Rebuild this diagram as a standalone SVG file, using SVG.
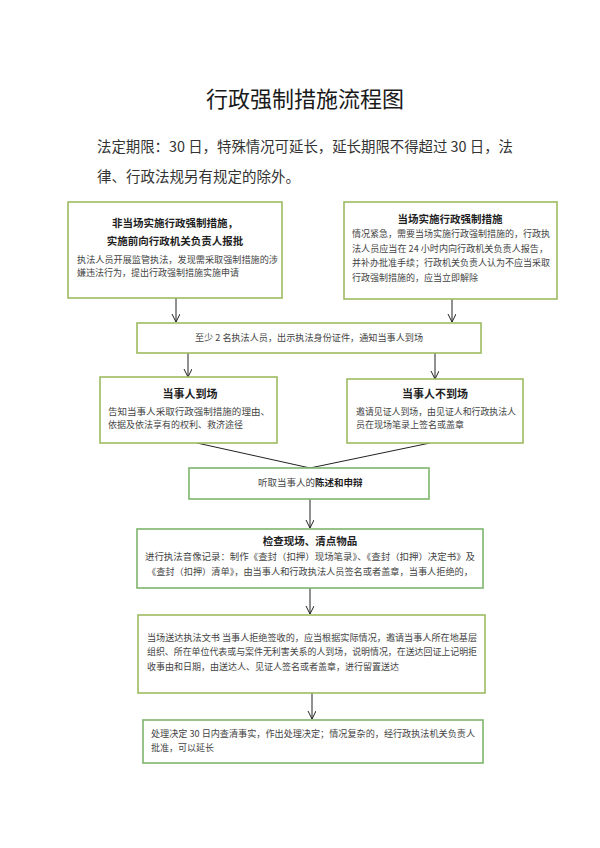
<svg xmlns="http://www.w3.org/2000/svg" width="600" height="848" viewBox="0 0 600 848">
<style>
text{font-family:"Noto Sans CJK SC","Noto Sans",sans-serif;fill:#333}
.title{font-size:22px;fill:#1a1a1a}
.intro{font-size:14.5px;fill:#333}
.h{font-size:10.5px;font-weight:bold;fill:#1e1e1e;text-anchor:middle}
.b{font-size:9px;fill:#444}
.box{fill:#fff;stroke:#9dbb60;stroke-width:1.6}
.box2{fill:#fff;stroke:#7fb56c;stroke-width:1.6}
.ln{stroke:#222;stroke-width:1;fill:none}
</style>
<defs>
<marker id="arr" markerUnits="userSpaceOnUse" markerWidth="10" markerHeight="10" refX="8" refY="4" orient="auto">
<path d="M0,0 L8,4 L0,8" fill="none" stroke="#222" stroke-width="1"/>
</marker>
</defs>
<rect width="600" height="848" fill="#fff"/>
<text class="title" x="305" y="107" text-anchor="middle">行政强制措施流程图</text>
<text class="intro" x="97" y="152" textLength="416" lengthAdjust="spacingAndGlyphs">法定期限：30 日，特殊情况可延长，延长期限不得超过 30 日，法</text>
<text class="intro" x="97" y="182">律、行政法规另有规定的除外。</text>

<g id="connectors">
<line class="ln" x1="176" y1="298" x2="176" y2="322" marker-end="url(#arr)"/>
<line class="ln" x1="452" y1="299" x2="452" y2="322" marker-end="url(#arr)"/>
<line class="ln" x1="188" y1="353" x2="188" y2="377" marker-end="url(#arr)"/>
<line class="ln" x1="435" y1="353" x2="435" y2="379" marker-end="url(#arr)"/>
<polyline class="ln" points="197,443 310,468 430,443"/>
<line class="ln" x1="310" y1="499" x2="310" y2="528" marker-end="url(#arr)"/>
<line class="ln" x1="310" y1="588" x2="310" y2="614" marker-end="url(#arr)"/>
<line class="ln" x1="312" y1="693" x2="312" y2="719" marker-end="url(#arr)"/>
</g>

<g id="n1">
<rect class="box" x="68" y="202" width="214" height="96"/>
<text class="h" x="175" y="227">非当场实施行政强制措施，</text>
<text class="h" x="175" y="245">实施前向行政机关负责人报批</text>
<text class="b" x="77" y="263" textLength="201" lengthAdjust="spacingAndGlyphs">执法人员开展监管执法，发现需采取强制措施的涉</text>
<text class="b" x="77" y="276">嫌违法行为，提出行政强制措施实施申请</text>
</g>

<g id="n2">
<rect class="box" x="344" y="202" width="213" height="97"/>
<text class="h" x="450" y="223">当场实施行政强制措施</text>
<text class="b" x="352" y="237" textLength="198" lengthAdjust="spacingAndGlyphs">情况紧急，需要当场实施行政强制措施的，行政执</text>
<text class="b" x="352" y="252" textLength="196" lengthAdjust="spacingAndGlyphs">法人员应当在 24 小时内向行政机关负责人报告，</text>
<text class="b" x="352" y="266" textLength="198" lengthAdjust="spacingAndGlyphs">并补办批准手续；行政机关负责人认为不应当采取</text>
<text class="b" x="352" y="281">行政强制措施的，应当立即解除</text>
</g>

<g id="n3">
<rect class="box" x="137" y="323" width="344" height="30"/>
<text class="b" x="195" y="341" textLength="228" lengthAdjust="spacingAndGlyphs">至少 2 名执法人员，出示执法身份证件，通知当事人到场</text>
</g>

<g id="n4">
<rect class="box" x="100" y="377" width="177" height="66"/>
<text class="h" x="190" y="398" style="font-size:11px">当事人到场</text>
<text class="b" x="108" y="415" textLength="162" lengthAdjust="spacingAndGlyphs">告知当事人采取行政强制措施的理由、</text>
<text class="b" x="108" y="428">依据及依法享有的权利、救济途径</text>
</g>

<g id="n5">
<rect class="box" x="347" y="379" width="176" height="64"/>
<text class="h" x="435" y="398" style="font-size:11px">当事人不到场</text>
<text class="b" x="356" y="415" textLength="160" lengthAdjust="spacingAndGlyphs">邀请见证人到场，由见证人和行政执法人</text>
<text class="b" x="356" y="428">员在现场笔录上签名或盖章</text>
</g>

<g id="n6">
<rect class="box2" x="189" y="468" width="240" height="31"/>
<text class="b" x="258" y="486" style="font-size:9.5px">听取当事人的<tspan font-weight="bold" fill="#1e1e1e">陈述和申辩</tspan></text>
</g>

<g id="n7">
<rect class="box2" x="137" y="529" width="346" height="59"/>
<text class="h" x="310" y="545">检查现场、清点物品</text>
<text class="b" x="145" y="560" textLength="330" lengthAdjust="spacingAndGlyphs">进行执法音像记录：制作《查封（扣押）现场笔录》、《查封（扣押）决定书》及</text>
<text class="b" x="147" y="575" textLength="326" lengthAdjust="spacingAndGlyphs">《查封（扣押）清单》，由当事人和行政执法人员签名或者盖章，当事人拒绝的，</text>
</g>

<g id="n8">
<rect class="box" x="138" y="615" width="347" height="78"/>
<text class="b" x="147" y="641" textLength="330" lengthAdjust="spacingAndGlyphs">当场送达执法文书 当事人拒绝签收的，应当根据实际情况，邀请当事人所在地基层</text>
<text class="b" x="147" y="655" textLength="330" lengthAdjust="spacingAndGlyphs">组织、所在单位代表或与案件无利害关系的人到场，说明情况，在送达回证上记明拒</text>
<text class="b" x="147" y="670">收事由和日期，由送达人、见证人签名或者盖章，进行留置送达</text>
</g>

<g id="n9">
<rect class="box2" x="143" y="720" width="340" height="43"/>
<text class="b" x="151" y="737" textLength="324" lengthAdjust="spacingAndGlyphs">处理决定 30 日内查清事实，作出处理决定；情况复杂的，经行政执法机关负责人</text>
<text class="b" x="151" y="751">批准，可以延长</text>
</g>
</svg>
